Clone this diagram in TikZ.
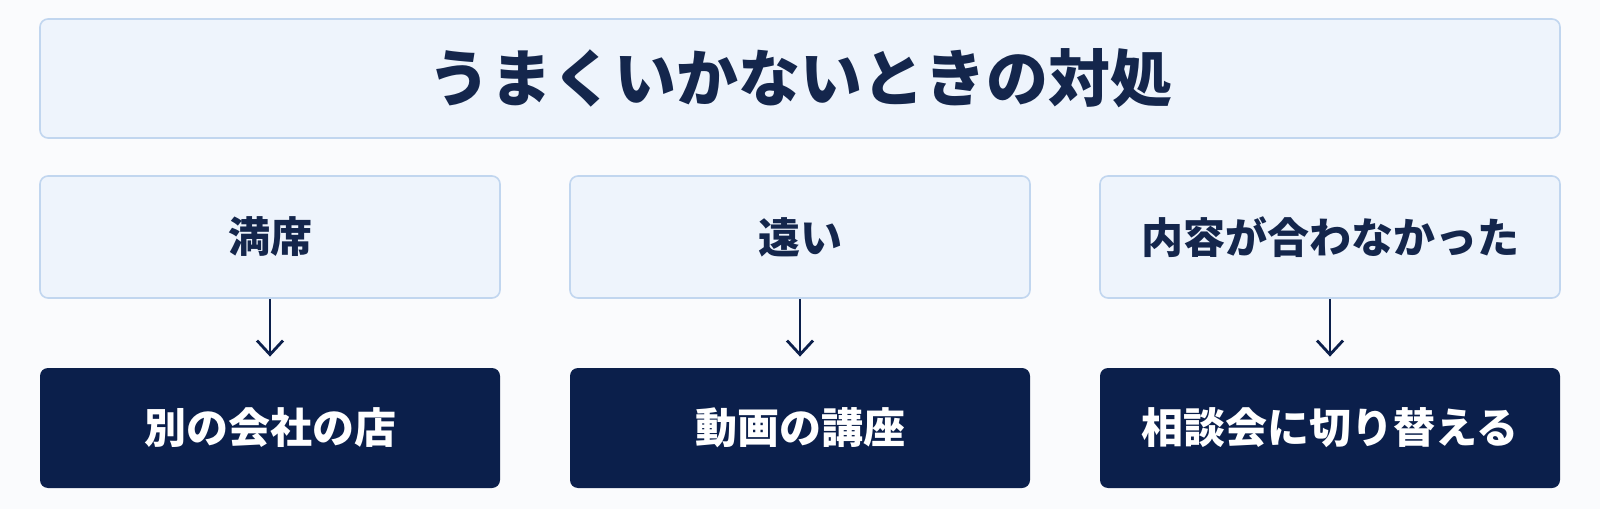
\documentclass[tikz,border=0pt]{standalone}
\usepackage{fontspec}
\usepackage{xcolor}
\usepackage{tikz}
\usetikzlibrary{arrows.meta,positioning}
\setmainfont{Noto Sans CJK JP}
\definecolor{navy}{HTML}{0B1F4B}
\definecolor{inktext}{HTML}{14264C}
\definecolor{paleblue}{HTML}{EEF4FC}
\definecolor{edgeblue}{HTML}{C1D6EF}
\definecolor{backdrop}{HTML}{FAFBFD}
\tikzset{>={Straight Barb[length=7pt,width=13pt,line width=1.4pt]}}

\begin{document}
\begin{tikzpicture}[x=0.5pt,y=0.5pt,
                          titlebox/.style={draw=edgeblue, line width=0.8pt, fill=paleblue, rounded corners=4pt,
                                           minimum width=760pt, minimum height=59.5pt, inner sep=0pt,
                                           text=inktext, font=\bfseries\fontsize{31pt}{36pt}\selectfont},
                          casebox/.style={draw=edgeblue, line width=0.8pt, fill=paleblue, rounded corners=4pt,
                                          minimum width=230pt, minimum height=61pt, inner sep=0pt,
                                          text=inktext, font=\bfseries\fontsize{21pt}{25pt}\selectfont},
                          fixbox/.style={fill=navy, rounded corners=4pt,
                                         minimum width=230pt, minimum height=60pt, inner sep=0pt,
                                         text=white, font=\bfseries\fontsize{21pt}{25pt}\selectfont},
                          step arrow/.style={line width=1.4pt, navy, ->, shorten >=5.5pt},
                         ]

\fill[backdrop] (0,0) rectangle (1600,509);
\useasboundingbox (0,0) rectangle (1600,509);

\node[titlebox] (title) at (800,430.5) {うまくいかないときの対処};

\node[casebox] (full) at (270,272) {満席};
\node[casebox] (far) at (800,272) {遠い};
\node[casebox] (mismatch) at (1330,272) {内容が合わなかった};

\node[fixbox] (othershop) at (270,81) {別の会社の店};
\node[fixbox] (video) at (800,81) {動画の講座};
\node[fixbox] (consult) at (1330,81) {相談会に切り替える};

\draw[step arrow] (full.south) -- (othershop.north);
\draw[step arrow] (far.south) -- (video.north);
\draw[step arrow] (mismatch.south) -- (consult.north);

\end{tikzpicture}
\end{document}
